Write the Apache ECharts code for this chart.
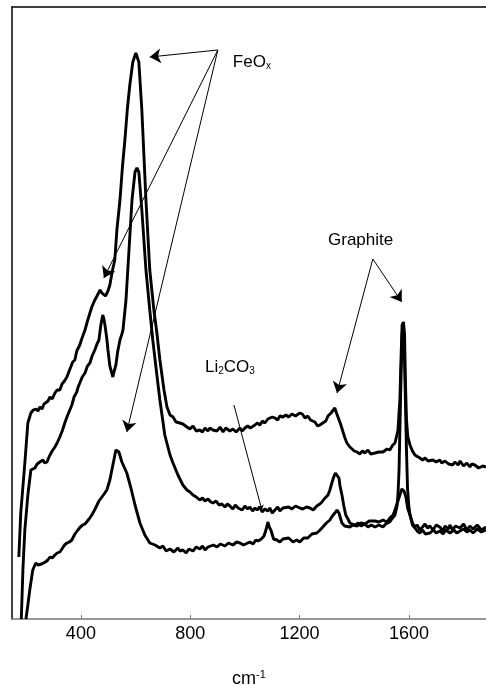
<!DOCTYPE html>
<html>
<head>
<meta charset="utf-8">
<script src="https://cdn.jsdelivr.net/npm/echarts@6/dist/echarts.min.js"></script>
<style>
  html, body { margin: 0; padding: 0; background: #fff; }
  #main { width: 486px; height: 685px; }
</style>
</head>
<body>
<div id="main"></div>
<script>
  // Raman spectra, wavenumber (cm-1) vs intensity (arbitrary units)
  var tickValues = [400, 800, 1200, 1600]

  // top spectrum
  var topWave = [173, 180, 195, 206, 217, 226, 235, 243, 250, 258, 265, 272, 280, 287, 295, 305, 313, 323, 331, 340, 349, 357, 363, 370, 378, 385, 396, 403, 415, 422, 433, 440, 451, 459, 470, 477, 484, 490, 499, 506, 515, 524, 532, 543, 552, 561, 570, 579, 590, 601, 605, 612, 623, 638, 652, 667, 678, 689, 704, 715, 726, 737, 748, 762, 773, 788, 799, 810, 822, 835, 845, 854, 865, 872, 883, 898, 909, 920, 930, 945, 956, 968, 982, 990, 1000, 1010, 1020, 1037, 1045, 1055, 1064, 1073, 1084, 1091, 1100, 1110, 1120, 1128, 1139, 1150, 1160, 1172, 1185, 1201, 1210, 1220, 1230, 1240, 1256, 1266, 1274, 1285, 1296, 1304, 1315, 1322, 1329, 1335, 1340, 1350, 1359, 1366, 1373, 1384, 1391, 1400, 1410, 1420, 1430, 1439, 1450, 1460, 1476, 1490, 1505, 1520, 1530, 1541, 1549, 1556, 1560, 1567, 1571, 1575, 1580, 1584, 1587, 1591, 1596, 1604, 1613, 1622, 1629, 1640, 1650, 1659, 1670, 1677, 1688, 1700, 1713, 1720, 1732, 1745, 1750, 1760, 1768, 1780, 1787, 1800, 1812, 1823, 1830, 1841, 1855, 1870, 1882]
  var topInt = [62, 106, 156, 196, 206, 209, 210, 208, 212, 210, 215, 213, 218, 222, 220, 226, 229, 229, 235, 238, 242, 248, 252, 257, 259, 268, 274, 280, 289, 296, 306, 312, 319, 323, 329, 326, 327, 323, 328, 334, 348, 359, 390, 419, 452, 479, 510, 534, 557, 566, 566, 557, 509, 419, 349, 309, 286, 259, 229, 212, 204, 202, 197, 196, 195, 192, 190, 193, 188, 189, 187, 191, 188, 191, 189, 188, 192, 187, 191, 188, 190, 187, 191, 188, 191, 193, 191, 194, 196, 194, 198, 196, 200, 198, 202, 201, 199, 203, 202, 204, 202, 205, 203, 206, 205, 201, 203, 199, 197, 193, 194, 196, 198, 203, 206, 207, 211, 206, 204, 195, 187, 181, 176, 172, 170, 168, 167, 165, 168, 166, 169, 165, 166, 167, 167, 170, 169, 174, 176, 184, 189, 220, 260, 294, 297, 285, 240, 200, 182, 174, 168, 164, 162, 161, 159, 161, 158, 160, 159, 157, 159, 156, 158, 155, 157, 154, 157, 154, 158, 153, 156, 152, 155, 154, 151, 153, 152]

  // middle spectrum
  var midWave = [182, 188, 195, 206, 217, 224, 232, 240, 250, 255, 261, 268, 276, 282, 287, 295, 305, 313, 323, 333, 341, 349, 358, 367, 375, 385, 390, 396, 405, 415, 424, 433, 441, 451, 459, 466, 473, 480, 484, 488, 495, 499, 506, 510, 517, 521, 528, 535, 543, 550, 554, 565, 576, 587, 598, 605, 612, 623, 638, 652, 663, 678, 689, 707, 726, 737, 755, 773, 788, 799, 810, 822, 835, 845, 854, 865, 875, 883, 895, 905, 916, 927, 936, 945, 956, 965, 975, 982, 990, 1000, 1010, 1018, 1028, 1037, 1045, 1055, 1063, 1073, 1084, 1091, 1100, 1110, 1120, 1128, 1139, 1146, 1160, 1172, 1185, 1201, 1212, 1225, 1238, 1250, 1263, 1274, 1282, 1290, 1304, 1311, 1318, 1325, 1331, 1337, 1344, 1348, 1355, 1362, 1369, 1377, 1384, 1391, 1402, 1415, 1425, 1439, 1450, 1462, 1476, 1490, 1505, 1515, 1530, 1540, 1549, 1556, 1560, 1564, 1567, 1571, 1575, 1580, 1583, 1587, 1591, 1595, 1600, 1604, 1613, 1622, 1630, 1640, 1650, 1659, 1668, 1677, 1688, 1700, 1713, 1725, 1732, 1745, 1750, 1760, 1770, 1787, 1800, 1812, 1823, 1835, 1850, 1865, 1882]
  var midInt = [0, 50, 89, 124, 149, 151, 151, 155, 157, 155, 159, 156, 157, 161, 164, 168, 172, 176, 182, 189, 196, 202, 208, 214, 222, 227, 232, 236, 242, 246, 253, 256, 263, 269, 275, 279, 294, 304, 300, 294, 280, 269, 253, 249, 242, 247, 254, 268, 279, 285, 289, 319, 369, 419, 447, 451, 447, 409, 349, 309, 279, 244, 219, 184, 164, 156, 144, 134, 129, 127, 124, 122, 119, 121, 118, 120, 117, 116, 118, 114, 115, 112, 115, 113, 110, 114, 111, 112, 109, 113, 110, 112, 108, 111, 109, 112, 107, 110, 108, 111, 106, 109, 112, 108, 111, 109, 112, 110, 113, 111, 110, 112, 111, 109, 113, 115, 117, 120, 124, 129, 136, 142, 146, 146, 141, 133, 124, 113, 104, 100, 96, 95, 94, 96, 93, 95, 92, 94, 92, 94, 92, 95, 97, 101, 104, 112, 124, 150, 190, 240, 285, 290, 270, 220, 170, 130, 112, 104, 96, 92, 94, 89, 92, 95, 91, 93, 89, 94, 92, 88, 93, 90, 94, 89, 93, 91, 95, 89, 93, 90, 94, 89, 92]

  // bottom spectrum
  var botWave = [199, 206, 213, 224, 235, 243, 250, 256, 261, 270, 279, 287, 295, 305, 313, 323, 333, 340, 349, 358, 367, 378, 389, 398, 407, 415, 422, 430, 440, 450, 459, 466, 477, 485, 495, 506, 517, 528, 532, 539, 550, 568, 583, 598, 616, 634, 652, 671, 689, 700, 712, 726, 740, 755, 762, 773, 785, 795, 810, 822, 835, 845, 854, 865, 872, 885, 898, 910, 927, 940, 956, 970, 982, 995, 1018, 1030, 1040, 1048, 1060, 1070, 1078, 1084, 1089, 1095, 1105, 1117, 1128, 1139, 1146, 1160, 1176, 1190, 1201, 1215, 1230, 1245, 1263, 1275, 1285, 1298, 1311, 1320, 1329, 1337, 1344, 1355, 1365, 1384, 1395, 1410, 1425, 1439, 1455, 1476, 1490, 1505, 1520, 1530, 1542, 1549, 1560, 1567, 1574, 1578, 1582, 1589, 1596, 1604, 1613, 1622, 1630, 1640, 1650, 1660, 1677, 1690, 1700, 1713, 1725, 1735, 1750, 1765, 1775, 1787, 1800, 1812, 1823, 1835, 1850, 1865, 1882]
  var botInt = [0, 14, 29, 49, 56, 54, 52, 55, 56, 57, 59, 62, 61, 64, 66, 67, 71, 74, 76, 77, 79, 85, 89, 92, 94, 95, 96, 100, 104, 109, 114, 118, 122, 125, 129, 139, 154, 169, 171, 167, 157, 146, 131, 114, 96, 84, 76, 74, 71, 73, 68, 70, 67, 71, 68, 69, 66, 70, 68, 72, 70, 73, 69, 72, 71, 74, 72, 75, 73, 76, 74, 77, 76, 74, 77, 75, 79, 78, 80, 83, 90, 97, 92, 89, 80, 79, 77, 80, 78, 81, 77, 79, 77, 81, 81, 85, 86, 89, 92, 96, 99, 103, 106, 109, 106, 96, 93, 92, 94, 93, 96, 95, 98, 98, 97, 99, 97, 101, 104, 109, 118, 124, 130, 132, 128, 122, 110, 104, 94, 91, 88, 86, 89, 85, 86, 89, 86, 88, 85, 89, 86, 89, 86, 88, 90, 87, 89, 86, 90, 87, 89]

  function pairs(xs, ys) {
    return xs.map(function (x, i) { return [x, ys[i]] })
  }

  // arrow from a label to a peak, in data coordinates
  function arrow(from, to, size) {
    return [
      { coord: from, symbol: 'none' },
      { coord: to, symbol: 'arrow', symbolSize: size || 11 }
    ]
  }

  var lineStyle = { color: '#000', width: 2.9 }
  var arrowStyle = { color: '#000', width: 1, type: 'solid' }

  var option = {
    animation: false,
    backgroundColor: '#fff',
    grid: { left: 12, right: 0, top: 7, bottom: 66, outerBoundsMode: 'none' },
    xAxis: [{
      type: 'value',
      min: 148,
      max: 1882,
      name: 'cm{sup|-1}',
      nameLocation: 'middle',
      nameGap: 50,
      nameTextStyle: {
        fontFamily: 'Liberation Sans',
        fontSize: 18,
        color: '#000',
        rich: { sup: { fontSize: 11, verticalAlign: 'top', padding: [0, 0, 9, 0], fontFamily: 'Liberation Sans', color: '#000' } }
      },
      axisLine: { lineStyle: { color: '#777', width: 1.5 } },
      axisTick: { inside: true, length: 4, customValues: tickValues, lineStyle: { color: '#777' } },
      axisLabel: {
        customValues: tickValues,
        margin: 6,
        fontFamily: 'Liberation Sans',
        fontSize: 18,
        color: '#000',
        formatter: function (v) { return String(v) }
      },
      splitLine: { show: false }
    }, {
      type: 'value',
      position: 'top',
      min: 148,
      max: 1882,
      axisLine: { show: true, lineStyle: { color: '#000', width: 1.5 } },
      axisTick: { show: false },
      axisLabel: { show: false },
      splitLine: { show: false }
    }],
    yAxis: {
      type: 'value',
      min: 0,
      max: 612,
      axisLine: { show: true, lineStyle: { color: '#000', width: 1.5 } },
      axisTick: { show: false },
      axisLabel: { show: false },
      splitLine: { show: false }
    },
    series: [{
      type: 'line',
      data: pairs(topWave, topInt),
      showSymbol: false,
      lineStyle: lineStyle,
      markLine: {
        silent: true,
        symbol: ['none', 'arrow'],
        symbolSize: 11,
        lineStyle: arrowStyle,
        label: { show: false },
        emphasis: { disabled: true },
        data: [
          arrow([901, 569], [652, 562]),
          arrow([901, 569], [484, 341]),
          arrow([901, 569], [568, 187]),
          arrow([1468, 360], [1574, 317]),
          arrow([1468, 360], [1337, 226]),
          arrow([960, 214], [1062, 109], 5)
        ]
      },
      markPoint: {
        silent: true,
        symbol: 'circle',
        symbolSize: 0,
        label: {
          show: true,
          position: 'right',
          distance: 0,
          fontFamily: 'Liberation Sans',
          fontSize: 17,
          color: '#000',
          rich: {
            sub: { fontFamily: 'Liberation Sans', fontSize: 10, color: '#000', verticalAlign: 'bottom', padding: [9, 0, 0, 0] }
          }
        },
        data: [
          { coord: [956, 557], label: { formatter: 'FeO{sub|x}' } },
          { coord: [1304, 379], label: { formatter: 'Graphite' } },
          { coord: [854, 252], label: { formatter: 'Li{sub|2}CO{sub|3}' } }
        ]
      }
    }, {
      type: 'line',
      data: pairs(midWave, midInt),
      showSymbol: false,
      lineStyle: lineStyle
    }, {
      type: 'line',
      data: pairs(botWave, botInt),
      showSymbol: false,
      lineStyle: lineStyle
    }]
  }

  var chart = echarts.init(document.getElementById('main'))
  chart.setOption(option)
</script>
</body>
</html>
